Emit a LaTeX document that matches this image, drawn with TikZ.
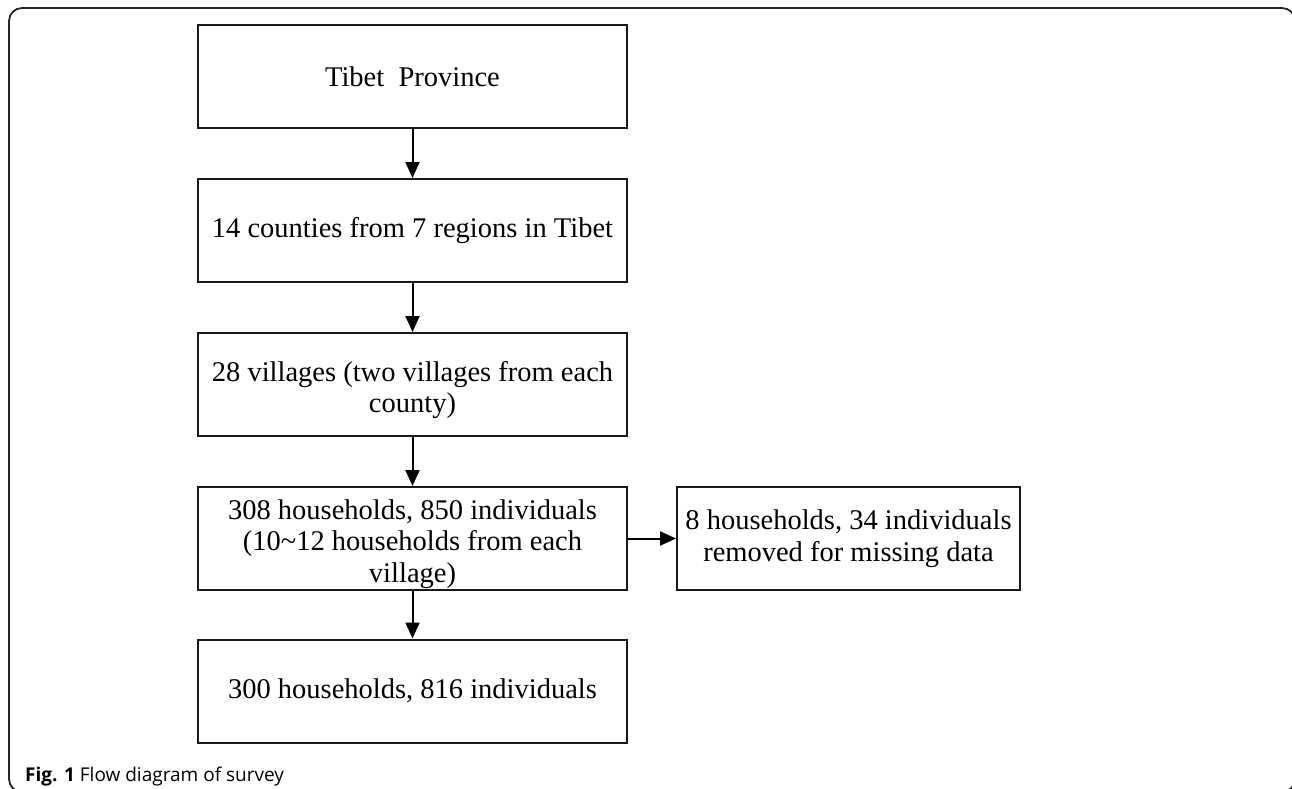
\documentclass[tikz,border=0pt]{standalone}
\usepackage{fontspec}
\setmainfont{Liberation Serif}
\newfontfamily\capfont{Open Sans}
\usetikzlibrary{arrows.meta}
\tikzset{
	stagebox/.style={draw=black!90, line width=2pt, minimum width=429pt, minimum height=103pt, align=center, inner sep=0pt, font=\fontsize{28.5}{31.5}\selectfont},
	flowarrow/.style={line width=2pt, -{Triangle[length=16pt,width=14pt]}}
}
\begin{document}
\begin{tikzpicture}[x=1pt, y=-1pt]
			%%%%% START %%%%%
			
			\useasboundingbox (0, 0) rectangle (1292, 789);
			\draw[line width=1.8pt, color=black!85, rounded corners=13pt] (9, 8) rectangle (1295, 792);
			
			\node[stagebox] (prov) at (412.5, 76.5) {Tibet\ \ Province};
			\node[stagebox] (cnty) at (412.5, 230.5) {14 counties from 7 regions in Tibet};
			\node[stagebox] (vill) at (412.5, 384.5) {\rule{0pt}{31pt}28 villages (two villages from each\\county)};
			\node[stagebox] (hh) at (412.5, 538.5) {\rule{0pt}{31pt}308 households, 850 individuals\\(10\textasciitilde12 households from each\\village)};
			\node[stagebox, minimum width=343pt] (miss) at (848.5, 538.5) {8 households, 34 individuals\\removed for missing data};
			\node[stagebox] (final) at (412.5, 691) {300 households, 816 individuals};
			
			\draw[flowarrow] (prov) -- (cnty);
			\draw[flowarrow] (cnty) -- (vill);
			\draw[flowarrow] (vill) -- (hh);
			\draw[flowarrow] (hh) -- (final);
			\draw[flowarrow] (hh) -- (miss);
			
			\node[anchor=base west, inner sep=0pt, font=\capfont\fontsize{19}{23}\selectfont] (cap) at (25, 781) {\textbf{Fig. 1} Flow diagram of survey};
			
			%%%%% END %%%%%
\end{tikzpicture}
\end{document}
